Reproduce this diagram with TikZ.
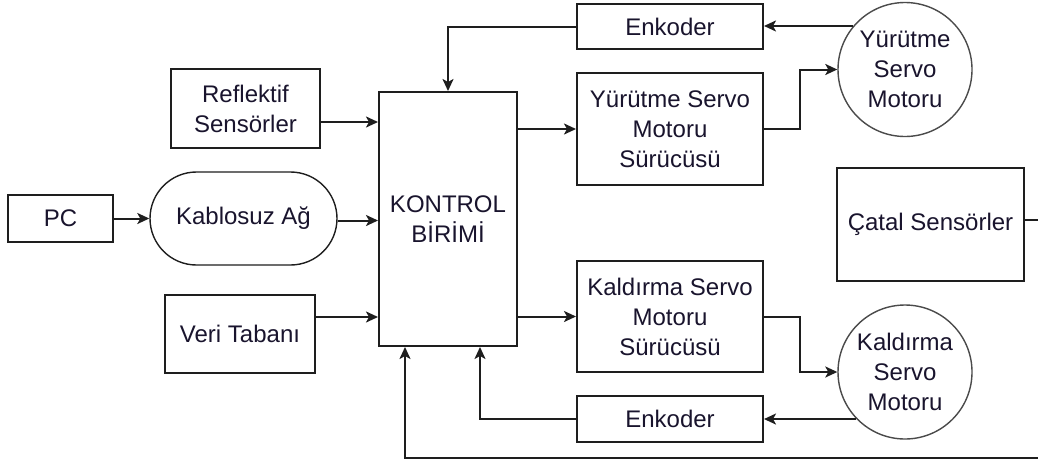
\documentclass[tikz,border=0pt]{standalone}
\usepackage{fontspec}
\setmainfont{Liberation Sans}
\usetikzlibrary{arrows.meta,shapes.misc}
\definecolor{txt}{RGB}{25,20,45}
\definecolor{ln}{RGB}{30,30,30}
\begin{document}
\begin{tikzpicture}[x=1pt,y=-1pt,
  lbl/.style={text=txt,font=\fontsize{24}{30}\selectfont,align=center,inner sep=0pt},
  box/.style={lbl,draw=ln,line width=2pt,rectangle},
  motor/.style={lbl,draw=ln!80,line width=1.4pt,circle,minimum size=134pt},
  arr/.style={draw=ln,line width=2pt,-{Stealth[length=12pt,width=11pt,inset=3pt]}},
  conn/.style={draw=ln,line width=2pt}]
\path[use as bounding box] (0,0) rectangle (1038,464);
\clip (0,0) rectangle (1038,464);
\fill[white] (0,0) rectangle (1038,464);
\node[box,minimum width=105pt,minimum height=47pt] (pc) at (60.5,218.5) {PC};
\node[lbl,draw=ln,line width=1.4pt,rounded rectangle,minimum width=187pt,minimum height=93pt] (kab) at (243.5,218.5) {Kablosuz Ağ};
\node[box,minimum width=149pt,minimum height=79pt] (ref) at (245.5,108.5) {Reflektif\\Sensörler};
\node[box,minimum width=150pt,minimum height=78pt] (veri) at (240,334) {Veri Tabanı};
\node[box,minimum width=138pt,minimum height=254pt] (kon) at (448,219) {KONTROL\\BİRİMİ};
\node[box,minimum width=186pt,minimum height=45pt] (enk1) at (670,26.5) {Enkoder};
\node[box,minimum width=186pt,minimum height=112pt] (ydrv) at (670,129) {Yürütme Servo\\Motoru\\Sürücüsü};
\node[motor] (ymot) at (905,69.5) {Yürütme\\Servo\\Motoru};
\node[box,minimum width=187pt,minimum height=113pt] (catal) at (930.5,224.5) {Çatal Sensörler};
\node[box,minimum width=186pt,minimum height=111pt] (kdrv) at (670,316.5) {Kaldırma Servo\\Motoru\\Sürücüsü};
\node[motor] (kmot) at (905,372) {Kaldırma\\Servo\\Motoru};
\node[box,minimum width=186pt,minimum height=46pt] (enk2) at (670,419) {Enkoder};
\coordinate (c1) at (1046,219.5);
\coordinate (c2) at (1046,458);
% inputs to control
\draw[arr] (pc.east) -- (kab.west);
\draw[arr] ([yshift=-13.5pt]ref.east) -- ([yshift=-13.5pt]ref.east -| kon.west);
\draw[arr] ([yshift=-2pt]kab.east) -- ([yshift=-2pt]kab.east -| kon.west);
\draw[arr] ([yshift=17pt]veri.east) -- ([yshift=17pt]veri.east -| kon.west);
% control to drivers
\draw[arr] (kon.east |- ydrv.west) -- (ydrv.west);
\draw[arr] (kon.east |- kdrv.west) -- (kdrv.west);
% drivers to motors
\draw[arr] (ydrv.east) -- ++(36,0) |- (ymot.west);
\draw[arr] (kdrv.east) -- ++(36,0) |- (kmot.west);
% motors to encoders
\draw[arr] (ymot.140) -- (ymot.140 -| enk1.east);
\draw[arr] (kmot.224.5) -- (kmot.224.5 -| enk2.east);
% encoders to control
\draw[arr] (enk1.west) -| (kon.north);
\draw[arr] (enk2.west) -| ([xshift=32pt]kon.south);
% fork sensors loop
\draw[arr] ([yshift=5pt]catal.east) -- (c1) -- (c2) -| ([xshift=-43pt]kon.south);
\end{tikzpicture}
\end{document}
